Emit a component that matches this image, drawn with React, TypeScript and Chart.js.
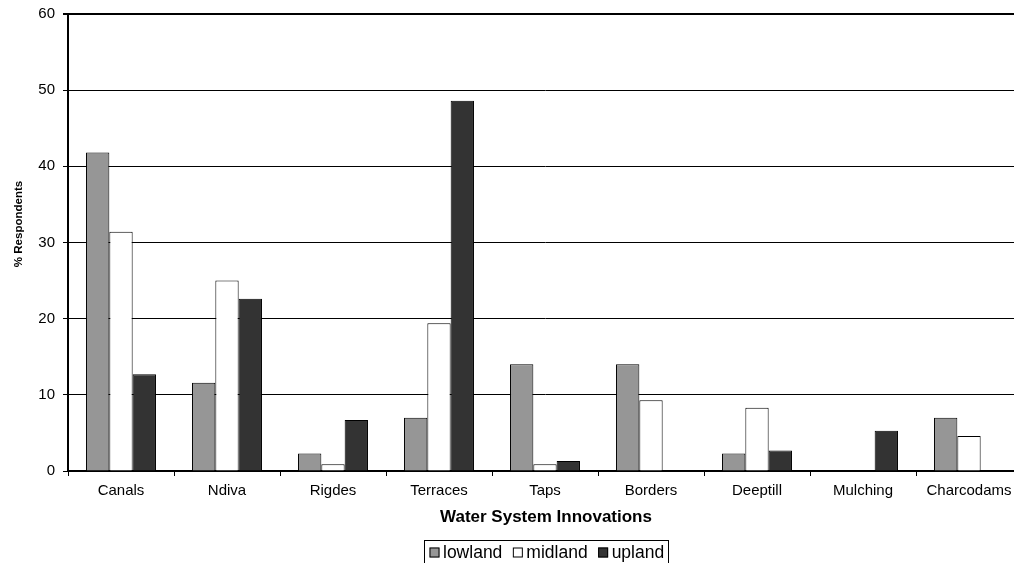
import React, { useEffect, useRef } from "react";
import { Chart, registerables } from "chart.js";

Chart.register(...registerables);

const categories = ["Canals", "Ndiva", "Rigdes", "Terraces", "Taps", "Borders", "Deeptill", "Mulching", "Charcodams"];
const lowland = [41.8, 11.6, 2.3, 7.0, 14.0, 14.0, 2.3, 0, 7.0];
const midland = [31.4, 25.0, 0.9, 19.4, 0.9, 9.3, 8.3, 0, 4.6];
const upland = [12.7, 22.6, 6.7, 48.6, 1.3, 0, 2.7, 5.3, 0];
const seriesNames = ["lowland", "midland", "upland"];
const seriesColors = ["#969696", "#ffffff", "#333333"];
const xTitle = "Water System Innovations";
const yTitle = "% Respondents";

const FONT = "'Liberation Sans', Arial, Helvetica, sans-serif";

const overlayPlugin = {
  id: "overlay",
  afterDraw(chart: any) {
    const ctx = chart.ctx;
    const area = chart.chartArea;
    ctx.save();
    ctx.fillStyle = "#000";
    // y title
    ctx.save();
    ctx.translate(18.5, 224);
    ctx.rotate(-Math.PI / 2);
    ctx.font = `bold 11.5px ${FONT}`;
    ctx.textAlign = "center";
    ctx.textBaseline = "middle";
    ctx.fillText(yTitle, 0, 0);
    ctx.restore();
    // x title
    ctx.font = `bold 17px ${FONT}`;
    ctx.textAlign = "center";
    ctx.textBaseline = "middle";
    ctx.fillText(xTitle, (area.left + area.right) / 2 + 1, 517);
    // legend
    ctx.font = `17.5px ${FONT}`;
    const marker = 10;
    const gapMT = 3.5;
    const gapItem = 10.5;
    const ds = chart.data.datasets;
    const boxLeft = 424;
    const boxRight = 668;
    let x = 429.5;
    const cy = 552.5;
    ctx.strokeStyle = "#000";
    ctx.lineWidth = 1;
    ctx.strokeRect(boxLeft + 0.5, 540.5, boxRight - boxLeft, 30);
    ds.forEach((d: any) => {
      const w = ctx.measureText(d.label).width;
      ctx.fillStyle = d.backgroundColor;
      ctx.fillRect(x, cy - marker / 2, marker, marker);
      ctx.strokeStyle = "#000";
      ctx.strokeRect(x + 0.5, cy - marker / 2 + 0.5, marker - 1, marker - 1);
      ctx.fillStyle = "#000";
      ctx.textAlign = "left";
      ctx.fillText(d.label, x + marker + gapMT, cy + 0.5);
      x += marker + gapMT + w + gapItem;
    });
    ctx.restore();
  },
};

export default function App() {
  const ref = useRef<HTMLCanvasElement | null>(null);
  useEffect(() => {
    if (!ref.current) return;
    const values = [lowland, midland, upland];
    const chart = new Chart(ref.current, {
      type: "bar",
      data: {
        labels: categories,
        datasets: seriesNames.map((name, i) => ({
          label: name,
          data: values[i],
          backgroundColor: seriesColors[i],
          borderColor: "#000000",
          borderWidth: 1,
          categoryPercentage: 0.66,
          barPercentage: 1.0,
        })),
      },
      options: {
        responsive: false,
        animation: false,
        events: [],
        layout: { padding: { left: 0, right: 8, top: 14, bottom: 0 } },
        plugins: { legend: { display: false }, tooltip: { enabled: false }, title: { display: false } },
        scales: {
          x: {
            grid: {
              offset: true,
              drawOnChartArea: false,
              drawTicks: true,
              tickLength: 5,
              tickColor: "#000",
            },
            border: { display: true, color: "#000", width: 2 },
            ticks: {
              color: "#000",
              font: { family: FONT, size: 15 },
              padding: 6,
              maxRotation: 0,
              autoSkip: false,
            },
            afterFit: (scale: any) => {
              scale.height = 92;
              scale.paddingLeft = 0;
              scale.paddingRight = 0;
            },
          },
          y: {
            min: 0,
            max: 60,
            ticks: {
              stepSize: 10,
              color: "#000",
              font: { family: FONT, size: 15 },
              padding: 8,
            },
            grid: {
              color: "#000",
              lineWidth: (c: any) => (c.tick && c.tick.value === 60 ? 2 : 1),
              drawTicks: true,
              tickLength: 5,
              tickColor: "#000",
            },
            border: { display: true, color: "#000", width: 2 },
            afterFit: (scale: any) => {
              scale.width = 68;
              scale.paddingTop = 0;
              scale.paddingBottom = 0;
            },
          },
        },
      },
      plugins: [overlayPlugin],
    });
    return () => chart.destroy();
  }, []);
  return (
    <div style={{ width: 1014, height: 563, overflow: "hidden", position: "absolute", left: 0, top: 0, background: "#fff" }}>
      <canvas ref={ref} width={1030} height={563} style={{ display: "block", width: 1030, height: 563 }} />
    </div>
  );
}
